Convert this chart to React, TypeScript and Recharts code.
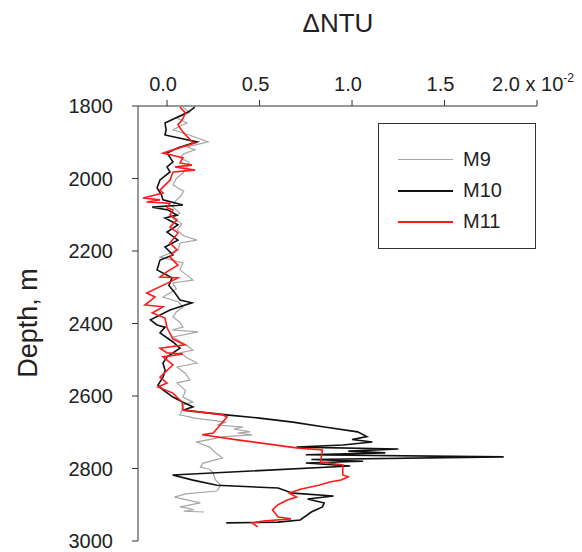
import React from 'react';
import { ScatterChart, Scatter, XAxis, YAxis, Legend } from 'recharts';

// [depth (m), ΔNTU (x 10^-2)]
const m9: [number, number][] = [
  [1803, 0.086], [1818, 0.12], [1833, 0.054], [1847, 0.108], [1858, 0.06], [1866, 0.032], [1880, 0.12],
  [1899, 0.222], [1913, 0.108], [1921, 0.151], [1932, 0.09], [1943, 0.07], [1955, 0.12], [1968, 0.108],
  [1985, 0.086], [2000, 0.05], [2018, 0.032], [2035, 0.09], [2051, 0.07], [2065, 0.04], [2079, 0.032],
  [2095, 0.07], [2110, 0.03], [2125, 0.08], [2142, 0.054], [2158, 0.09], [2170, 0.162], [2178, 0.07],
  [2197, 0.06], [2217, -0.038], [2233, 0.086], [2252, 0.07], [2268, 0.11], [2280, 0.14], [2288, 0.032],
  [2305, 0.05], [2327, -0.022], [2340, 0.06], [2354, 0.086], [2368, 0.05], [2382, 0.032], [2397, 0.07],
  [2410, 0.086], [2418, 0.027], [2423, 0.168], [2437, 0.032], [2455, 0.09], [2473, 0.14], [2481, 0.07],
  [2495, 0.11], [2509, 0.162], [2520, 0.054], [2538, 0.1], [2556, 0.124], [2564, 0.054], [2585, 0.1],
  [2603, 0.086], [2617, 0.14], [2625, 0.081], [2639, 0.08], [2652, 0.07], [2661, 0.15], [2672, 0.32],
  [2680, 0.27], [2686, 0.41], [2691, 0.36], [2699, 0.45], [2702, 0.38], [2707, 0.46], [2713, 0.3],
  [2727, 0.16], [2741, 0.23], [2756, 0.26], [2771, 0.3], [2785, 0.195], [2796, 0.18], [2802, 0.23],
  [2812, 0.25], [2830, 0.26], [2846, 0.29], [2854, 0.28], [2862, 0.27], [2870, 0.1], [2879, 0.04],
  [2888, 0.12], [2895, 0.18], [2906, 0.07], [2910, 0.12], [2914, 0.14], [2918, 0.09], [2920, 0.2],
];

const m10: [number, number][] = [
  [1803, 0.15], [1815, 0.12], [1825, 0.081], [1847, -0.011], [1865, -0.005], [1880, -0.011], [1899, 0.162],
  [1915, 0.06], [1930, 0.0], [1954, 0.032], [1968, 0.0], [1982, 0.016], [2004, -0.038], [2026, -0.054],
  [2045, -0.03], [2059, -0.022], [2073, 0.086], [2079, -0.08], [2087, 0.005], [2101, 0.054], [2109, -0.011],
  [2128, 0.059], [2148, 0.0], [2170, 0.059], [2189, -0.011], [2211, 0.032], [2225, -0.038], [2252, -0.054],
  [2274, 0.027], [2295, 0.01], [2316, 0.043], [2335, 0.07], [2343, 0.135], [2363, 0.016], [2390, -0.09],
  [2404, -0.054], [2410, -0.011], [2426, -0.038], [2451, 0.032], [2468, 0.07], [2492, 0.0], [2509, -0.022],
  [2530, -0.01], [2548, -0.022], [2570, -0.049], [2583, -0.022], [2603, 0.032], [2617, 0.086], [2630, 0.14],
  [2639, 0.086], [2652, 0.32], [2661, 0.5], [2672, 0.68], [2686, 0.86], [2699, 1.03], [2712, 1.08],
  [2720, 1.0], [2727, 1.11], [2735, 0.95], [2741, 0.7], [2746, 1.25], [2752, 0.98], [2757, 1.18],
  [2762, 0.75], [2768, 1.82], [2775, 0.78], [2780, 1.06], [2785, 0.75], [2793, 0.99], [2818, 0.03],
  [2832, 0.14], [2846, 0.27], [2854, 0.6], [2868, 0.68], [2876, 0.9], [2884, 0.76], [2895, 0.85],
  [2906, 0.84], [2920, 0.78], [2942, 0.72], [2948, 0.6], [2950, 0.32],
];

const m11: [number, number][] = [
  [1803, 0.07], [1820, 0.1], [1839, 0.081], [1852, 0.059], [1872, 0.086], [1899, 0.135], [1902, 0.151],
  [1921, 0.032], [1930, -0.022], [1943, 0.086], [1957, 0.07], [1963, 0.135], [1968, 0.043], [1977, 0.151],
  [1982, 0.032], [2004, 0.016], [2032, -0.038], [2040, -0.022], [2054, -0.13], [2059, -0.038], [2065, -0.11],
  [2068, 0.016], [2081, 0.0], [2087, 0.032], [2101, 0.016], [2114, 0.054], [2134, 0.016], [2150, 0.059],
  [2178, 0.016], [2197, 0.054], [2206, 0.032], [2217, 0.016], [2239, 0.059], [2257, 0.0], [2272, -0.038],
  [2274, 0.059], [2288, 0.005], [2316, -0.11], [2327, -0.065], [2349, -0.12], [2354, -0.022], [2371, -0.08],
  [2385, -0.011], [2412, 0.0], [2443, 0.032], [2459, 0.097], [2468, -0.038], [2481, 0.0], [2484, 0.086],
  [2492, -0.022], [2514, 0.032], [2548, -0.038], [2564, 0.0], [2575, -0.049], [2592, 0.032], [2617, 0.081],
  [2630, 0.086], [2639, 0.086], [2652, 0.3], [2658, 0.324], [2702, 0.25], [2707, 0.19], [2721, 0.38],
  [2743, 0.7], [2749, 0.84], [2782, 0.83], [2790, 0.95], [2818, 0.95], [2823, 0.98], [2832, 0.94],
  [2837, 0.88], [2846, 0.82], [2857, 0.72], [2868, 0.66], [2879, 0.7], [2887, 0.65], [2900, 0.6],
  [2914, 0.57], [2934, 0.6], [2939, 0.67], [2945, 0.52], [2950, 0.46], [2961, 0.49],
];

const xTicks = [0, 0.5, 1, 1.5, 2];
const depthTicks = [1800, 2000, 2200, 2400, 2600, 2800, 3000];

const series = [
  { name: 'M9', data: m9, color: '#a6a6a6', width: 1.2 },
  { name: 'M10', data: m10, color: '#111111', width: 1.6 },
  { name: 'M11', data: m11, color: '#ff1a1a', width: 1.6 },
];

const FONT = '"Liberation Sans", Arial, sans-serif';
const TEXT = '#222';

const toRows = (d: [number, number][]) => d.map(([depth, v]) => ({ depth, v }));

const TopTick = (props: any) => {
  const { x, y, payload } = props;
  const label = Number(payload.value).toFixed(1);
  return (
    <text x={x - 4} y={y} textAnchor="middle" fontSize={20} fill={TEXT} fontFamily={FONT}>
      {label}
      {payload.value === 2 && (
        <>
          <tspan> x 10</tspan>
          <tspan fontSize={12} dy={-9}>-2</tspan>
        </>
      )}
    </text>
  );
};

const renderLegend = () => (
  <div
    style={{
      width: 158, height: 126, border: '1px solid #333', boxSizing: 'border-box',
      background: '#fff', fontFamily: FONT, fontSize: 20, color: TEXT, paddingTop: 20,
    }}
  >
    {series.map(s => (
      <div key={s.name} style={{ display: 'flex', alignItems: 'center', height: 31 }}>
        <div style={{ marginLeft: 19, width: 55, height: 0, borderTop: `${s.name === 'M9' ? 1.5 : 2}px solid ${s.color}` }} />
        <span style={{ marginLeft: 10 }}>{s.name}</span>
      </div>
    ))}
  </div>
);

export default function App() {
  return (
    <div style={{ position: 'absolute', left: 0, top: 0, width: 582, height: 552, background: '#fff' }}>
      <div
        style={{
          position: 'absolute', left: 238, top: 10, width: 200, textAlign: 'center',
          fontFamily: FONT, fontSize: 26, lineHeight: '26px', color: TEXT,
        }}
      >
        ΔNTU
      </div>
      <div
        style={{
          position: 'absolute', left: -72, top: 308, width: 200, height: 30, lineHeight: '30px',
          textAlign: 'center', fontFamily: FONT, fontSize: 27, color: TEXT, transform: 'rotate(-90deg)',
        }}
      >
        Depth, m
      </div>
      <ScatterChart width={582} height={552} margin={{ top: 0, right: 45, bottom: 11, left: 0 }}>
        <XAxis
          xAxisId={0}
          type="number"
          dataKey="v"
          orientation="top"
          domain={[-0.157, 2]}
          ticks={xTicks}
          allowDataOverflow
          height={106}
          tickSize={6}
          tickMargin={9}
          tick={<TopTick />}
          stroke="#333"
        />
        <YAxis
          yAxisId={0}
          type="number"
          dataKey="depth"
          reversed
          domain={[1800, 3000]}
          ticks={depthTicks}
          allowDataOverflow
          width={138}
          tickSize={6}
          tickMargin={19}
          tick={{ fontSize: 20, fill: TEXT, fontFamily: FONT }}
          stroke="#333"
        />
        {series.map(s => (
          <Scatter
            key={s.name}
            name={s.name}
            data={toRows(s.data)}
            fill={s.color}
            line={{ stroke: s.color, strokeWidth: s.width }}
            lineType="joint"
            shape={() => <g />}
            isAnimationActive={false}
          />
        ))}
        <Legend
          layout="vertical"
          align="center"
          verticalAlign="middle"
          content={renderLegend}
          wrapperStyle={{ left: 378, top: 123, width: 158, height: 126 }}
        />
      </ScatterChart>
    </div>
  );
}
